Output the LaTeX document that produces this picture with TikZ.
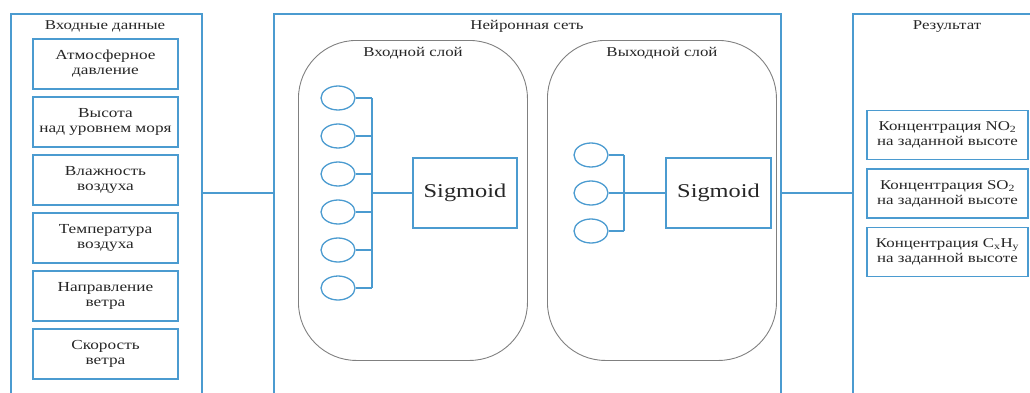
\documentclass[tikz,border=0pt]{standalone}
\usepackage{fontspec}
\setmainfont{Liberation Serif}[FakeStretch=1.25]
\usetikzlibrary{positioning,shapes.geometric,calc}
\definecolor{frameblue}{RGB}{75,155,208}

\begin{document}
\begin{tikzpicture}[x=1pt, y=-1pt, node distance=6.5pt,
    panel/.style={draw=frameblue, line width=1.6pt, rectangle, anchor=north west, inner sep=0pt},
    param/.style={draw=frameblue, line width=1.5pt, rectangle, minimum width=145pt, minimum height=50pt, align=center, inner sep=1pt, text=black!85, font=\fontsize{13.8}{15}\selectfont},
    result/.style={param, minimum width=161pt, minimum height=49pt, font=\fontsize{13.5}{15}\selectfont},
    layer/.style={draw=black!50, line width=0.9pt, rectangle, rounded corners=58pt, anchor=north west},
    neuron/.style={draw=frameblue, line width=1.3pt, ellipse, minimum width=34pt, minimum height=24pt, inner sep=0pt},
    sigbox/.style={draw=frameblue, line width=1.5pt, rectangle, minimum width=104pt, minimum height=70pt, text=black!85, font=\fontsize{19.5}{22}\selectfont},
    heading/.style={text=black!85, font=\fontsize{13.5}{15}\selectfont},
    wire/.style={draw=frameblue, line width=1.3pt}]
    \useasboundingbox (0,0) rectangle (1030,392);
    \clip (0,0) rectangle (1030,392);

    \node [panel, minimum width=191pt, minimum height=400pt] (inpanel) at (10,13) {};
    \node [panel, minimum width=507pt, minimum height=400pt] (nnpanel) at (273,13) {};
    \node [panel, minimum width=200pt, minimum height=400pt] (respanel) at (852,13) {};

    \node [heading] (intitle) at (105,26) {Входные данные};
    \node [heading] (nntitle) at (527,26) {Нейронная сеть};
    \node [heading] (restitle) at (947,27) {Результат};

    \node [param] (press) at (105.5,64) {Атмосферное\\давление};
    \node [param, below=of press] (alt) {Высота\\над уровнем моря};
    \node [param, below=of alt] (hum) {Влажность\\воздуха};
    \node [param, below=of hum] (temp) {Температура\\воздуха};
    \node [param, below=of temp] (wdir) {Направление\\ветра};
    \node [param, below=of wdir] (wspeed) {Скорость\\ветра};

    \node [layer, minimum width=229pt, minimum height=320pt] (inlayer) at (298,40) {};
    \node [layer, minimum width=229pt, minimum height=320pt] (outlayer) at (547,40) {};
    \node [heading] (inlabel) at (413,53) {Входной слой};
    \node [heading] (outlabel) at (662,53) {Выходной слой};

    \foreach \i in {1,...,6}
        \node [neuron] (in\i) at (338,60+38*\i) {};
    \foreach \i/\y in {1/155,2/193,3/231}
        \node [neuron] (out\i) at (591,\y) {};

    \node [sigbox] (sig1) at (465,193) {Sigmoid};
    \node [sigbox, minimum width=105pt] (sig2) at (718.5,193) {Sigmoid};

    \coordinate (bus1) at (372,193);
    \coordinate (bus2) at (624,193);
    \foreach \i in {1,...,6}
        \draw [wire] (in\i.east) -- (in\i.east -| bus1);
    \draw [wire] (in1.east -| bus1) -- (in6.east -| bus1);
    \draw [wire] (bus1) -- (sig1);
    \foreach \i in {1,2,3}
        \draw [wire] (out\i.east) -- (out\i.east -| bus2);
    \draw [wire] (out1.east -| bus2) -- (out3.east -| bus2);
    \draw [wire] (bus2) -- (sig2);

    \node [result] (no) at (947.5,135) {Концентрация NO\textsubscript{2}\\на заданной высоте};
    \node [result, below=8pt of no] (so) {Концентрация SO\textsubscript{2}\\на заданной высоте};
    \node [result, below=8pt of so] (ch) {Концентрация C\textsubscript{x}H\textsubscript{y}\\на заданной высоте};

    \draw [wire] (sig1 -| inpanel.east) -- (sig1 -| nnpanel.west);
    \draw [wire] (sig2 -| nnpanel.east) -- (sig2 -| respanel.west);
\end{tikzpicture}
\end{document}
